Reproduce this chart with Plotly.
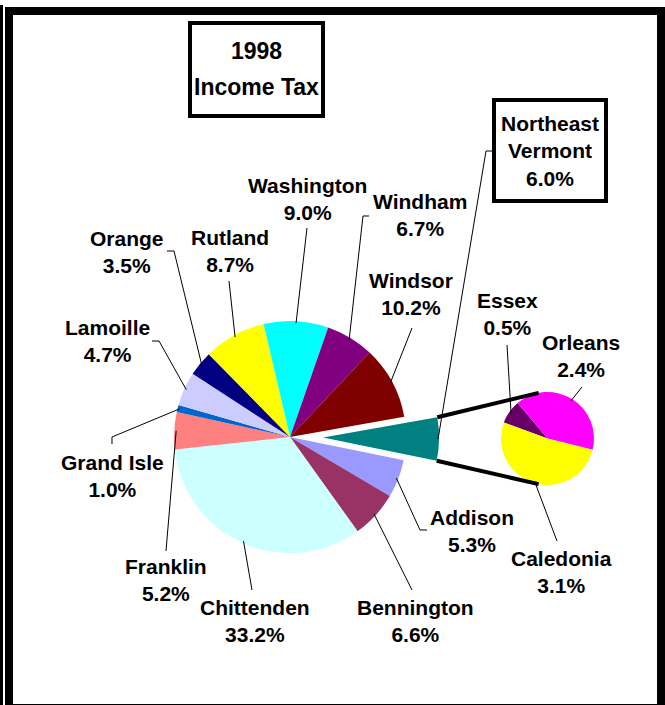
import math
import plotly.graph_objects as go

W, H = 665, 705

# main pie (Northeast Vermont is pulled out and split in the small pie)
main_labels = ["Northeast Vermont", "Addison", "Bennington", "Chittenden", "Franklin",
               "Grand Isle", "Lamoille", "Orange", "Rutland", "Washington", "Windham", "Windsor"]
main_values = [6.0, 5.3, 6.6, 33.2, 5.2, 1.0, 4.7, 3.5, 8.7, 9.0, 6.7, 10.2]
main_colors = ["#008080", "#9999FF", "#993366", "#CCFFFF", "#FF8080", "#0066CC",
               "#CCCCFF", "#000080", "#FFFF00", "#00FFFF", "#800080", "#800000"]

ne_labels = ["Essex", "Orleans", "Caledonia"]
ne_values = [0.5, 2.4, 3.1]
ne_colors = ["#660066", "#FF00FF", "#FFFF00"]

title_lines = ["1998", "Income Tax"]

# layout (pixels)
MAIN_C, MAIN_R, MAIN_ROT, PULL = (290, 437), 116, 80, 0.285
NE_C, NE_R, NE_ROT = (547.5, 438.5), 46.5, -70

# label centre and leader start points, per slice
main_label_pos = {
    "Addison": ((472, 531), [(427, 530), (420, 530)]),
    "Bennington": ((415, 621), [(412, 590)]),
    "Chittenden": ((255, 621), [(252, 590)]),
    "Franklin": ((166, 580), [(166, 551)]),
    "Grand Isle": ((112, 476), [(112, 444), (112, 437)]),
    "Lamoille": ((107, 341), [(152, 341), (159, 341)]),
    "Orange": ((127, 252), [(167, 251), (174, 251)]),
    "Rutland": ((230, 251), [(229, 281)]),
    "Washington": ((307, 199), [(307, 228)]),
    "Windham": ((420, 215), [(369, 216), (363, 216)]),
    "Windsor": ((411, 294), [(412, 328)]),
}
ne_label_pos = {
    "Essex": ((507, 314), [(507, 345)]),
    "Orleans": ((581, 356), [(582, 387)]),
    "Caledonia": ((561, 572), [(557, 541)]),
}


def X(px):
    return px / W


def Y(py):
    return 1 - py / H


def mid_angles(values, rot):
    tot = sum(values)
    out, a = [], rot
    for v in values:
        span = v / tot * 360
        out.append((a, a + span))
        a += span
    return out


def pt(c, r, ang):
    t = math.radians(ang)
    return (c[0] + r * math.sin(t), c[1] - r * math.cos(t))


def path(points):
    return "M " + " L ".join(f"{X(x):.5f},{Y(y):.5f}" for x, y in points)


def label(x, y, text, f):
    return dict(x=X(x), y=Y(y), text=text, showarrow=False, xref="paper", yref="paper",
                xanchor="center", yanchor="middle", font=f)


font = dict(family="Liberation Sans, Arial", size=21, color="black", weight="bold")
title_font = dict(family="Liberation Sans, Arial", size=23, color="black", weight="bold")

fig = go.Figure()
half = MAIN_R * (1 + PULL)
fig.add_trace(go.Pie(
    labels=main_labels, values=main_values, sort=False, direction="clockwise",
    rotation=MAIN_ROT, pull=[PULL] + [0] * (len(main_values) - 1),
    marker=dict(colors=main_colors, line=dict(width=0)), textinfo="none",
    domain=dict(x=[X(MAIN_C[0] - half), X(MAIN_C[0] + half)],
                y=[Y(MAIN_C[1] + half), Y(MAIN_C[1] - half)]),
    showlegend=False, hoverinfo="label+value"))
fig.add_trace(go.Pie(
    labels=ne_labels, values=ne_values, sort=False, direction="clockwise",
    rotation=NE_ROT, marker=dict(colors=ne_colors, line=dict(width=0)), textinfo="none",
    domain=dict(x=[X(NE_C[0] - NE_R), X(NE_C[0] + NE_R)],
                y=[Y(NE_C[1] + NE_R), Y(NE_C[1] - NE_R)]),
    showlegend=False, hoverinfo="label+value"))

shapes, annotations = [], []
line_k = dict(color="black", width=1)

angs = mid_angles(main_values, MAIN_ROT)
for name, v, (a0, a1) in zip(main_labels, main_values, angs):
    if name not in main_label_pos:
        continue
    (lx, ly), lead = main_label_pos[name]
    anchor = pt(MAIN_C, MAIN_R - 2, (a0 + a1) / 2)
    shapes.append(dict(type="path", xref="paper", yref="paper", path=path(lead + [anchor]), line=line_k))
    annotations.append(label(lx, ly, f"{name}<br>{v:.1f}%", font))

for name, v, (a0, a1) in zip(ne_labels, ne_values, mid_angles(ne_values, NE_ROT)):
    (lx, ly), lead = ne_label_pos[name]
    anchor = pt(NE_C, NE_R - 2, (a0 + a1) / 2)
    shapes.append(dict(type="path", xref="paper", yref="paper", path=path(lead + [anchor]), line=line_k))
    annotations.append(label(lx, ly, f"{name}<br>{v:.1f}%", font))

# pulled slice corners -> connector lines to the small pie
a0, a1 = angs[0]
off = pt((0, 0), MAIN_R * PULL, (a0 + a1) / 2)
c_pulled = (MAIN_C[0] + off[0], MAIN_C[1] + off[1])
top_corner = pt(c_pulled, MAIN_R, a0)
bot_corner = pt(c_pulled, MAIN_R, a1)
thick = dict(color="black", width=4)
shapes.append(dict(type="path", xref="paper", yref="paper",
                   path=path([top_corner, pt(NE_C, NE_R, -11)]), line=thick))
shapes.append(dict(type="path", xref="paper", yref="paper",
                   path=path([bot_corner, pt(NE_C, NE_R, 191)]), line=thick))

# Northeast Vermont box + leader
ne_anchor = pt(c_pulled, MAIN_R - 1, (a0 + a1) / 2)
shapes.append(dict(type="path", xref="paper", yref="paper",
                   path=path([(492, 151), (486, 151), ne_anchor]), line=line_k))
shapes.append(dict(type="rect", xref="paper", yref="paper", x0=X(494), x1=X(606), y0=Y(100), y1=Y(201),
                   line=thick, fillcolor="white", layer="below"))
annotations.append(label(550, 151, f"Northeast<br>Vermont<br>{main_values[0]:.1f}%", font))

# title box
shapes.append(dict(type="rect", xref="paper", yref="paper", x0=X(190), x1=X(323), y0=Y(23), y1=Y(116),
                   line=thick, fillcolor="white", layer="below"))
annotations.append(label(256.5, 51, title_lines[0], title_font))
annotations.append(label(256.5, 87, title_lines[1], title_font))

# outer frame
shapes.append(dict(type="rect", xref="paper", yref="paper", x0=X(9), x1=X(661), y0=Y(708), y1=Y(11),
                   line=dict(color="black", width=8)))
shapes.append(dict(type="line", xref="paper", yref="paper", x0=X(1.5), x1=X(1.5), y0=Y(5), y1=Y(705),
                   line=dict(color="black", width=3)))

fig.update_layout(width=W, height=H, margin=dict(l=0, r=0, t=0, b=0),
                  paper_bgcolor="white", plot_bgcolor="white",
                  shapes=shapes, annotations=annotations)
fig.write_html("out.html", config={"displayModeBar": False},
               post_script="document.body.style.margin='0px';")
